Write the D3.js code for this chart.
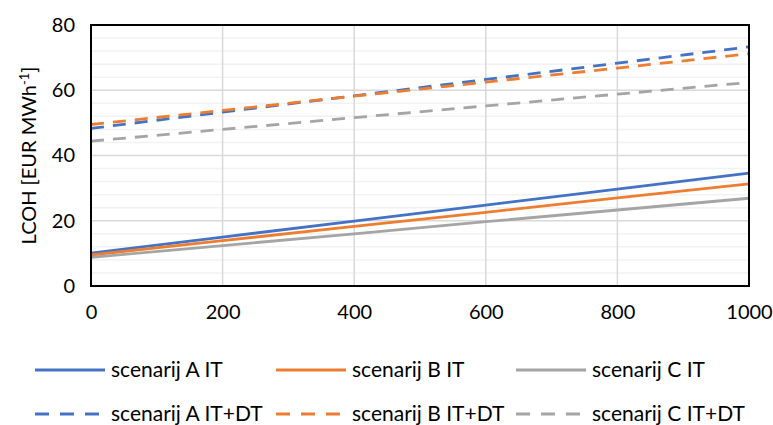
<!DOCTYPE html>
<html><head><meta charset="utf-8">
<script src="https://cdn.jsdelivr.net/npm/d3@7"></script>
<style>body{margin:0;background:#fff}svg{display:block;font-family:Lato,"Open Sans",sans-serif}</style>
</head><body>
<svg id="c" width="773" height="425"></svg>
<script>
const xValues = [0, 200, 400, 600, 800, 1000];
const seriesNames = ["scenarij A IT","scenarij B IT","scenarij C IT","scenarij A IT+DT","scenarij B IT+DT","scenarij C IT+DT"];
const aIT   = [10.1, 15.0, 19.9, 24.8, 29.7, 34.6];
const bIT   = [9.5, 13.9, 18.3, 22.6, 27.0, 31.3];
const cIT   = [8.8, 12.4, 16.0, 19.7, 23.3, 26.9];
const aITDT = [48.3, 53.3, 58.3, 63.3, 68.3, 73.3];
const bITDT = [49.5, 53.8, 58.2, 62.5, 66.8, 71.2];
const cITDT = [44.4, 48.0, 51.6, 55.2, 58.8, 62.4];
const yTicks = [0, 20, 40, 60, 80];
const xTicks = [0, 200, 400, 600, 800, 1000];

const colors = ["#4472C4","#ED7D31","#A5A5A5","#4472C4","#ED7D31","#A5A5A5"];
const dashed = [false,false,false,true,true,true];
const allSeries = [aIT,bIT,cIT,aITDT,bITDT,cITDT];

const svg = d3.select("#c");
const L = 91, R = 749, T = 25, B = 286;
const x = d3.scaleLinear().domain([0,1000]).range([L,R]);
const y = d3.scaleLinear().domain([0,80]).range([B,T]);

const minor = d3.range(4, 80, 4).filter(v => v % 20 !== 0);
svg.append("g").selectAll("line").data(minor).join("line")
  .attr("x1", L).attr("x2", R).attr("y1", d=>y(d)).attr("y2", d=>y(d))
  .attr("stroke", "#f2f2f2").attr("stroke-width", 1.5);
svg.append("g").selectAll("line").data(yTicks.filter(v=>v>0&&v<80)).join("line")
  .attr("x1", L).attr("x2", R).attr("y1", d=>y(d)).attr("y2", d=>y(d))
  .attr("stroke", "#d9d9d9").attr("stroke-width", 1.5);
svg.append("g").selectAll("line").data(xTicks.filter(v=>v>0&&v<1000)).join("line")
  .attr("y1", T).attr("y2", B).attr("x1", d=>x(d)).attr("x2", d=>x(d))
  .attr("stroke", "#d9d9d9").attr("stroke-width", 1.5);

const line = d3.line().x((d,i)=>x(xValues[i])).y(d=>y(d));
allSeries.forEach((s, k) => {
  svg.append("path").attr("d", line(s)).attr("fill","none")
    .attr("stroke", colors[k]).attr("stroke-width", 2.8)
    .attr("stroke-dasharray", dashed[k] ? "13 9" : null);
});

svg.append("rect").attr("x", L).attr("y", T).attr("width", R-L).attr("height", B-T)
  .attr("fill","none").attr("stroke","#000").attr("stroke-width",2);

const yAxis = d3.axisLeft(y).tickValues(yTicks).tickSize(0).tickPadding(16).tickFormat(d3.format("d"));
const gy = svg.append("g").attr("transform", `translate(${L},0)`).call(yAxis);
const xAxis = d3.axisBottom(x).tickValues(xTicks).tickSize(0).tickPadding(19).tickFormat(d3.format("d"));
const gx = svg.append("g").attr("transform", `translate(0,${B})`).call(xAxis);
[gy, gx].forEach(g => {
  g.select(".domain").remove();
  g.selectAll("text").attr("font-size", 20).attr("fill", "#000").attr("font-family","Lato,'Open Sans',sans-serif");
});

const yt = svg.append("text").attr("transform", `translate(36,${(T+B)/2}) rotate(-90)`)
  .attr("text-anchor","middle").attr("font-size", 20).attr("fill","#000");
yt.append("tspan").text("LCOH [EUR MWh");
yt.append("tspan").attr("dy", -7).attr("font-size", 13).text("-1");
yt.append("tspan").attr("dy", 7).text("]");

const colX = [35, 276, 516];
const rowY = [370, 414];
seriesNames.forEach((n, k) => {
  const cx = colX[k % 3], cy = rowY[Math.floor(k/3)];
  svg.append("line").attr("x1", cx).attr("x2", cx+70).attr("y1", cy).attr("y2", cy)
    .attr("stroke", colors[k]).attr("stroke-width", 2.8)
    .attr("stroke-dasharray", dashed[k] ? "14 11" : null);
  svg.append("text").attr("x", cx+76).attr("y", cy).attr("dy", "0.35em")
    .attr("font-size", 21).attr("fill","#000").text(n);
});
</script>
</body></html>
